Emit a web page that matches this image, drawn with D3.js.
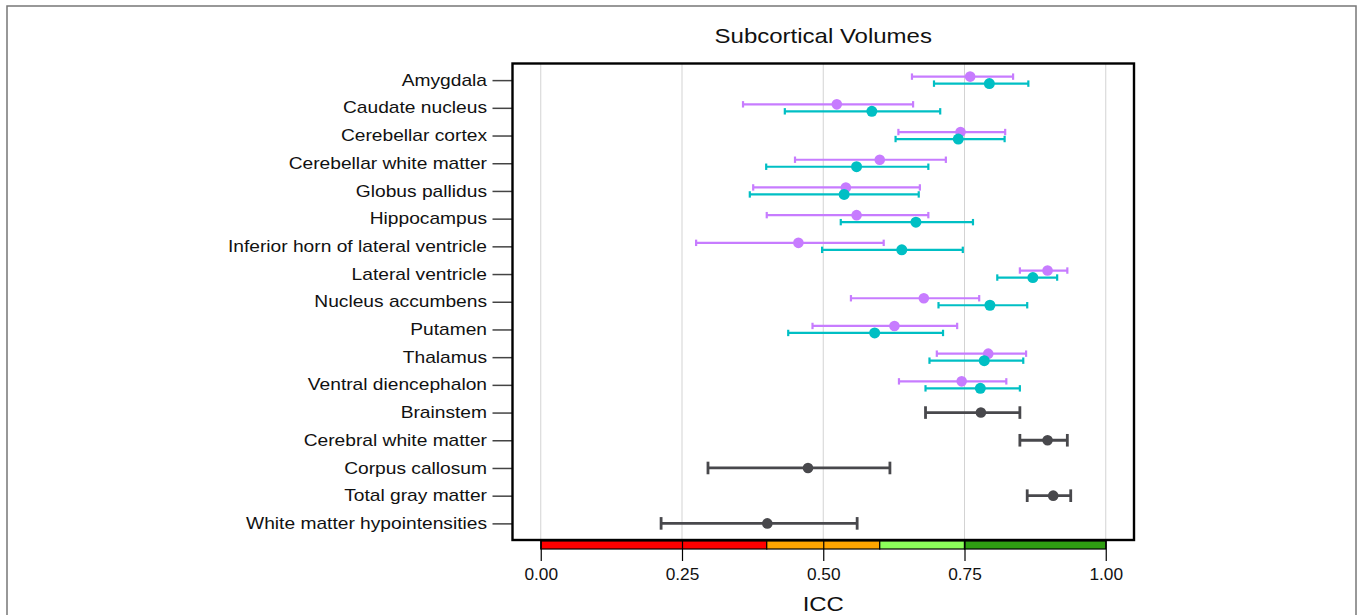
<!DOCTYPE html>
<html lang="en">
<head>
<meta charset="UTF-8">
<title>Subcortical Volumes</title>
<script src="https://d3js.org/d3.v7.min.js"></script>
<style>
  body { margin: 0; background: #fff; }
  svg text { font-family: "Liberation Sans", Arial, Helvetica, sans-serif; fill: #111; }
</style>
</head>
<body>
<div id="chart"></div>
<script>
// regions, top to bottom
var regions = ["Amygdala", "Caudate nucleus", "Cerebellar cortex", "Cerebellar white matter",
  "Globus pallidus", "Hippocampus", "Inferior horn of lateral ventricle", "Lateral ventricle",
  "Nucleus accumbens", "Putamen", "Thalamus", "Ventral diencephalon",
  "Brainstem", "Cerebral white matter", "Corpus callosum", "Total gray matter",
  "White matter hypointensities"];

// first 12 regions have two estimates (purple / teal)
var purpleIcc = [0.760, 0.524, 0.743, 0.600, 0.540, 0.559, 0.456, 0.897, 0.678, 0.626, 0.792, 0.745];
var purpleLo  = [0.657, 0.358, 0.633, 0.450, 0.376, 0.400, 0.275, 0.848, 0.549, 0.481, 0.701, 0.634];
var purpleHi  = [0.836, 0.659, 0.822, 0.717, 0.671, 0.686, 0.607, 0.932, 0.776, 0.737, 0.859, 0.824];

var tealIcc = [0.794, 0.586, 0.739, 0.559, 0.537, 0.664, 0.639, 0.871, 0.795, 0.591, 0.785, 0.778];
var tealLo  = [0.696, 0.432, 0.628, 0.399, 0.370, 0.531, 0.498, 0.808, 0.704, 0.438, 0.688, 0.681];
var tealHi  = [0.863, 0.707, 0.821, 0.686, 0.669, 0.765, 0.747, 0.914, 0.861, 0.712, 0.854, 0.848];

// last 5 regions, single estimate
var singleIcc = [0.779, 0.897, 0.473, 0.907, 0.401];
var singleLo  = [0.681, 0.848, 0.296, 0.861, 0.213];
var singleHi  = [0.848, 0.932, 0.618, 0.938, 0.560];

var xTicks = [0, 0.25, 0.5, 0.75, 1];
var bandStops = [0, 0.4, 0.6, 0.75, 1];
var bandColors = ["#ff0000", "#ffa500", "#8cff5a", "#2f9e12"];

var width = 1357, height = 615;
var plot = {left: 512.5, right: 1134, top: 63.5, bottom: 540};
var stretch = 1.2; // text in the source figure is drawn a bit wide

var svg = d3.select("#chart").append("svg")
    .attr("width", width)
    .attr("height", height);

// outer frame
svg.append("rect")
    .attr("x", 7).attr("y", 6)
    .attr("width", 1349).attr("height", 640)
    .attr("fill", "none")
    .attr("stroke", "#777")
    .attr("stroke-width", 1.5);

var x = d3.scaleLinear().domain([-0.05, 1.05]).range([plot.left, plot.right]);
var y = d3.scalePoint().domain(regions).range([plot.top, plot.bottom]).padding(0.6);

// grid
svg.append("g").selectAll("line")
    .data(xTicks)
    .join("line")
    .attr("x1", function(d){ return x(d); })
    .attr("x2", function(d){ return x(d); })
    .attr("y1", plot.top)
    .attr("y2", plot.bottom)
    .attr("stroke", "#d3d3d3")
    .attr("stroke-width", 1);

// y axis
var yAxis = svg.append("g")
    .attr("transform", "translate(" + plot.left + ",0)")
    .call(d3.axisLeft(y).tickSize(20).tickPadding(5));
yAxis.select(".domain").remove();
yAxis.selectAll(".tick line").attr("stroke", "#444").attr("stroke-width", 1.5);
yAxis.selectAll(".tick text")
    .attr("font-size", 16)
    .attr("fill", "#111")
    .attr("x", -25.5 / stretch)
    .attr("transform", "scale(" + stretch + ",1)");

function drawSeries(names, icc, lo, hi, dy, color, opts) {
  var rows = names.map(function(n, i){ return {name: n, icc: icc[i], lo: lo[i], hi: hi[i]}; });
  var g = svg.append("g");
  var item = g.selectAll("g").data(rows).join("g")
      .attr("transform", function(d){ return "translate(0," + (y(d.name) + dy) + ")"; });
  item.append("line")
      .attr("x1", function(d){ return x(d.lo); })
      .attr("x2", function(d){ return x(d.hi); })
      .attr("stroke", color).attr("stroke-width", opts.sw);
  item.append("line")
      .attr("x1", function(d){ return x(d.lo); })
      .attr("x2", function(d){ return x(d.lo); })
      .attr("y1", -opts.cap).attr("y2", opts.cap)
      .attr("stroke", color).attr("stroke-width", opts.sw);
  item.append("line")
      .attr("x1", function(d){ return x(d.hi); })
      .attr("x2", function(d){ return x(d.hi); })
      .attr("y1", -opts.cap).attr("y2", opts.cap)
      .attr("stroke", color).attr("stroke-width", opts.sw);
  item.append("circle")
      .attr("cx", function(d){ return x(d.icc); })
      .attr("r", opts.r)
      .attr("fill", color);
}

var paired = regions.slice(0, 12);
var single = regions.slice(12);
drawSeries(paired, purpleIcc, purpleLo, purpleHi, -3.5, "#c77cff", {sw: 2.2, cap: 3.2, r: 5.3});
drawSeries(paired, tealIcc, tealLo, tealHi, 3.5, "#00bfc4", {sw: 2.2, cap: 3.2, r: 5.5});
drawSeries(single, singleIcc, singleLo, singleHi, 0, "#48484c", {sw: 2.8, cap: 6.3, r: 5.3});

// panel border
svg.append("rect")
    .attr("x", plot.left).attr("y", plot.top)
    .attr("width", plot.right - plot.left)
    .attr("height", plot.bottom - plot.top)
    .attr("fill", "none")
    .attr("stroke", "#000")
    .attr("stroke-width", 2.4);

// reliability colour band
var bands = d3.pairs(bandStops).map(function(p, i){ return {a: p[0], b: p[1], c: bandColors[i]}; });
svg.append("g").selectAll("rect")
    .data(bands)
    .join("rect")
    .attr("x", function(d){ return x(d.a); })
    .attr("width", function(d){ return x(d.b) - x(d.a); })
    .attr("y", plot.bottom + 1)
    .attr("height", 8)
    .attr("fill", function(d){ return d.c; })
    .attr("stroke", "#000")
    .attr("stroke-width", 1.2);

// x axis
var xAxis = svg.append("g")
    .attr("transform", "translate(0," + (plot.bottom + 1) + ")")
    .call(d3.axisBottom(x).tickValues(xTicks).tickFormat(d3.format(".2f")).tickSize(20).tickPadding(8));
xAxis.select(".domain").remove();
xAxis.selectAll(".tick line").attr("stroke", "#000").attr("stroke-width", 1.2);
xAxis.selectAll(".tick text")
    .attr("font-size", 16)
    .attr("fill", "#111")
    .attr("transform", "scale(1.08,1)");

svg.append("text")
    .attr("transform", "translate(" + x(0.5) + ",611) scale(1.14,1)")
    .attr("text-anchor", "middle")
    .attr("font-size", 21)
    .text("ICC");

svg.append("text")
    .attr("transform", "translate(" + ((plot.left + plot.right) / 2) + ",43) scale(" + stretch + ",1)")
    .attr("text-anchor", "middle")
    .attr("font-size", 20)
    .text("Subcortical Volumes");
</script>
</body>
</html>
